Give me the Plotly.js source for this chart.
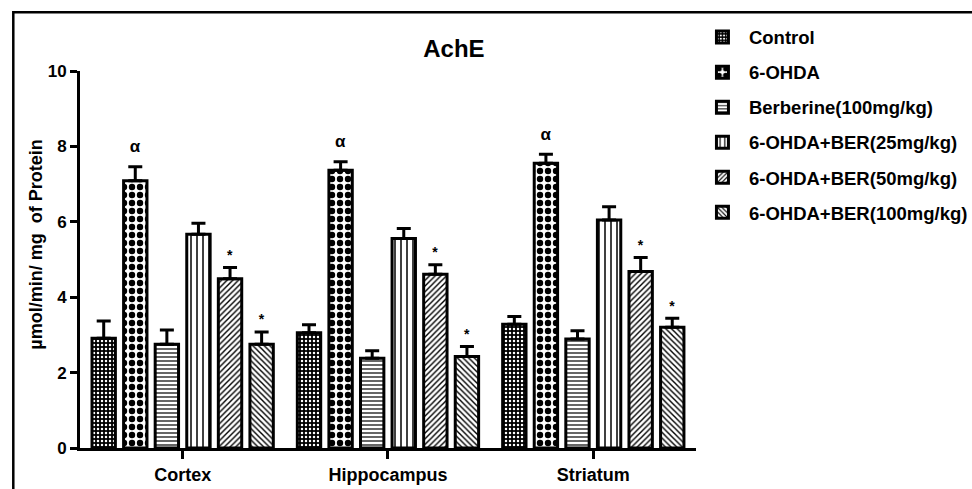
<!DOCTYPE html>
<html>
<head>
<meta charset="utf-8">
<script src="https://cdn.plot.ly/plotly-3.0.1.min.js"></script>
<style>html,body{margin:0;padding:0;background:#fff;}#chart{width:972px;height:489px;}</style>
</head>
<body>
<div id="chart"></div>
<script>
// ---- data ----
const categories = ['Cortex', 'Hippocampus', 'Striatum'];
const seriesNames = ['Control', '6-OHDA', 'Berberine(100mg/kg)', '6-OHDA+BER(25mg/kg)', '6-OHDA+BER(50mg/kg)', '6-OHDA+BER(100mg/kg)'];
const control      = [2.91, 3.06, 3.28];
const controlErr   = [0.46, 0.21, 0.21];
const ohda         = [7.09, 7.37, 7.55];
const ohdaErr      = [0.37, 0.22, 0.24];
const berberine    = [2.75, 2.38, 2.89];
const berberineErr = [0.38, 0.20, 0.22];
const ber25        = [5.67, 5.56, 6.05];
const ber25Err     = [0.29, 0.26, 0.35];
const ber50        = [4.49, 4.61, 4.68];
const ber50Err     = [0.30, 0.25, 0.37];
const ber100       = [2.75, 2.43, 3.20];
const ber100Err    = [0.33, 0.26, 0.24];
const sigLabels = ['', 'α', '', '', '*', '*'];   // significance mark per series
const yTickVals = [0, 2, 4, 6, 8, 10];

// ---- styles ----
const FONT = 'Liberation Sans, Arial, Helvetica, sans-serif';
const values = [control, ohda, berberine, ber25, ber50, ber100];
const errors = [controlErr, ohdaErr, berberineErr, ber25Err, ber50Err, ber100Err];
const patterns = [
  {shape: '.', size: 4, solidity: 0.3, fgcolor: '#fff', bgcolor: '#000', fillmode: 'replace'},
  {shape: '.', size: 8, solidity: 0.5, fgcolor: '#000', bgcolor: '#fff', fillmode: 'replace'},
  {shape: '-', size: 4, solidity: 0.3, fgcolor: '#000', bgcolor: '#fff', fillmode: 'replace'},
  {shape: '|', size: 6, solidity: 0.25, fgcolor: '#000', bgcolor: '#fff', fillmode: 'replace'},
  {shape: '/', size: 4, solidity: 0.35, fgcolor: '#000', bgcolor: '#fff', fillmode: 'replace'},
  {shape: '\\', size: 4, solidity: 0.35, fgcolor: '#000', bgcolor: '#fff', fillmode: 'replace'}
];
const labelPad = {'α': 0.2, '*': 0.04};

const traces = [];
seriesNames.forEach((name, i) => {
  traces.push({
    type: 'bar', name: name, x: categories, y: values[i],
    offsetgroup: 'g' + i, legendgroup: 'g' + i,
    marker: {color: '#fff', pattern: patterns[i], line: {color: '#000', width: 3}},
    error_y: {type: 'data', symmetric: false, array: errors[i], arrayminus: errors[i].map(() => 0),
              color: '#000', thickness: 3, width: 7},
    hoverinfo: 'skip'
  });
});
// invisible carriers for the significance marks, sitting on top of the error caps
seriesNames.forEach((name, i) => {
  if (!sigLabels[i]) return;
  const pad = labelPad[sigLabels[i]];
  traces.push({
    type: 'bar', x: categories, y: values[i].map((v, k) => v + errors[i][k] + pad),
    offsetgroup: 'g' + i, legendgroup: 'g' + i, showlegend: false,
    marker: {color: 'rgba(0,0,0,0)', line: {width: 0}},
    text: categories.map(() => sigLabels[i]), textposition: 'outside', cliponaxis: false,
    constraintext: 'none',
    textfont: {family: FONT, size: sigLabels[i] === 'α' ? 17 : 14, color: '#000', weight: 'bold'},
    hoverinfo: 'skip'
  });
});

const layout = {
  width: 972, height: 489,
  margin: {l: 80, r: 255, t: 71, b: 41, pad: 0},
  paper_bgcolor: '#fff', plot_bgcolor: '#fff',
  barmode: 'group', bargap: 0.077, bargroupgap: 0.26,
  showlegend: true,
  font: {family: FONT, color: '#000'},
  title: {text: 'AchE', font: {family: FONT, size: 24, weight: 'bold', color: '#000'},
          xref: 'container', x: 0.467, xanchor: 'center', yref: 'container', y: 0.9, yanchor: 'middle'},
  xaxis: {type: 'category', showline: true, linecolor: '#000', linewidth: 3,
          ticks: 'outside', ticklen: 8, tickwidth: 3, tickcolor: '#000',
          tickfont: {family: FONT, size: 18, weight: 'bold', color: '#000'},
          showgrid: false, zeroline: false, fixedrange: true},
  yaxis: {range: [0, 10], tickvals: yTickVals, showline: true, linecolor: '#000', linewidth: 3,
          ticks: 'outside', ticklen: 7, tickwidth: 3, tickcolor: '#000',
          tickfont: {family: FONT, size: 17, weight: 'bold', color: '#000'},
          showgrid: false, zeroline: false, fixedrange: true},
  legend: {xref: 'container', yref: 'container', x: 0.716, y: 0.962, xanchor: 'left', yanchor: 'top',
           font: {family: FONT, size: 18.5, weight: 'bold', color: '#000'},
           traceorder: 'grouped', tracegroupgap: 8, itemwidth: 43, bgcolor: 'rgba(0,0,0,0)',
           itemclick: false, itemdoubleclick: false},
  annotations: [{
    text: 'µmol/min/ mg\u00a0\u00a0of Protein', textangle: -90, showarrow: false,
    xref: 'paper', yref: 'paper', x: -0.071, y: 0.54, xanchor: 'center', yanchor: 'middle',
    font: {family: FONT, size: 18, weight: 'bold', color: '#000'}
  }],
  shapes: [{
    type: 'rect', xref: 'paper', yref: 'paper', x0: -0.1083, y0: -1, x1: 3, y1: 1.156,
    line: {color: '#000', width: 2.5}, fillcolor: 'rgba(0,0,0,0)', layer: 'above'
  }]
};

Plotly.newPlot('chart', traces, layout, {displayModeBar: false, staticPlot: true});
</script>
</body>
</html>
